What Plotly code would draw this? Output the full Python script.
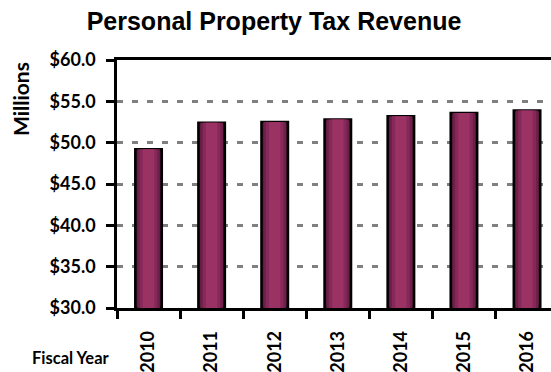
import plotly.graph_objects as go

years = ["2010", "2011", "2012", "2013", "2014", "2015", "2016"]
revenue = [49.2, 52.4, 52.5, 52.8, 53.2, 53.6, 53.9]
y_ticks = [30, 35, 40, 45, 50, 55, 60]
y_tick_text = ["$30.0", "$35.0", "$40.0", "$45.0", "$50.0", "$55.0", "$60.0"]

W, H = 551, 372
L, R, T, B = 117, 0, 60, 64

fig = go.Figure()
# layered bars to mimic cylindrical shading
layers = [
    (0.42, "#4a1430", dict(color="#000000", width=2.5)),
    (0.36, "#6e2148", dict(width=0)),
    (0.28, "#86295a", dict(width=0)),
    (0.18, "#9a3264", dict(width=0)),
]
for w, c, ln in layers:
    fig.add_trace(go.Bar(
        x=years, y=[v - 30 for v in revenue], base=30, width=w,
        marker=dict(color=c, line=ln), hoverinfo="skip", showlegend=False,
    ))

pw, ph = W - L - R, H - T - B

def px_x(x):
    return (x - L) / pw

def px_y(y):
    return (H - B - y) / ph

fig.update_layout(
    width=W, height=H,
    margin=dict(l=L, r=R, t=T, b=B, autoexpand=False),
    paper_bgcolor="white", plot_bgcolor="white",
    barmode="overlay",
    title=dict(text="<b>Personal Property Tax Revenue</b>", x=274 / W, xanchor="center",
               y=1 - 21 / H, yanchor="middle",
               font=dict(family="Liberation Sans, Arial", size=25, color="black")),
    font=dict(family="Lato, sans-serif", color="black"),
    xaxis=dict(
        type="category", range=[-0.5, 6.38], automargin=False,
        showline=True, linecolor="black", linewidth=2.5, mirror=True,
        ticks="outside", ticklen=8, tickwidth=2.5, tickcolor="black",
        tickson="boundaries", tickangle=-90, ticklabelstandoff=13,
        tickfont=dict(family="Lato, sans-serif", size=18, color="black", weight="bold"),
        showgrid=False,
    ),
    yaxis=dict(
        range=[30, 60], tickvals=y_ticks, ticktext=y_tick_text, automargin=False,
        showline=True, linecolor="black", linewidth=2.5,
        ticks="outside", ticklen=8, tickwidth=2.5, tickcolor="black",
        ticklabelstandoff=7,
        tickfont=dict(family="Lato, sans-serif", size=18, color="black", weight="bold"),
        showgrid=True, gridcolor="#808080", gridwidth=2.5, griddash="6px,9px",
        zeroline=False,
    ),
    annotations=[
        dict(text="<b>Millions</b>", x=px_x(20), y=px_y(99), xref="paper", yref="paper",
             xanchor="center", yanchor="middle", showarrow=False, textangle=-90,
             font=dict(family="Lato, sans-serif", size=21, color="black")),
        dict(text="<b>Fiscal Year</b>", x=px_x(71), y=px_y(358), xref="paper", yref="paper",
             xanchor="center", yanchor="middle", showarrow=False,
             font=dict(family="Lato, sans-serif", size=16.5, color="black")),
    ],
)

fig.write_html("out.html", config={"displayModeBar": False},
               post_script="document.body.style.margin='0';document.body.style.overflow='hidden';")
